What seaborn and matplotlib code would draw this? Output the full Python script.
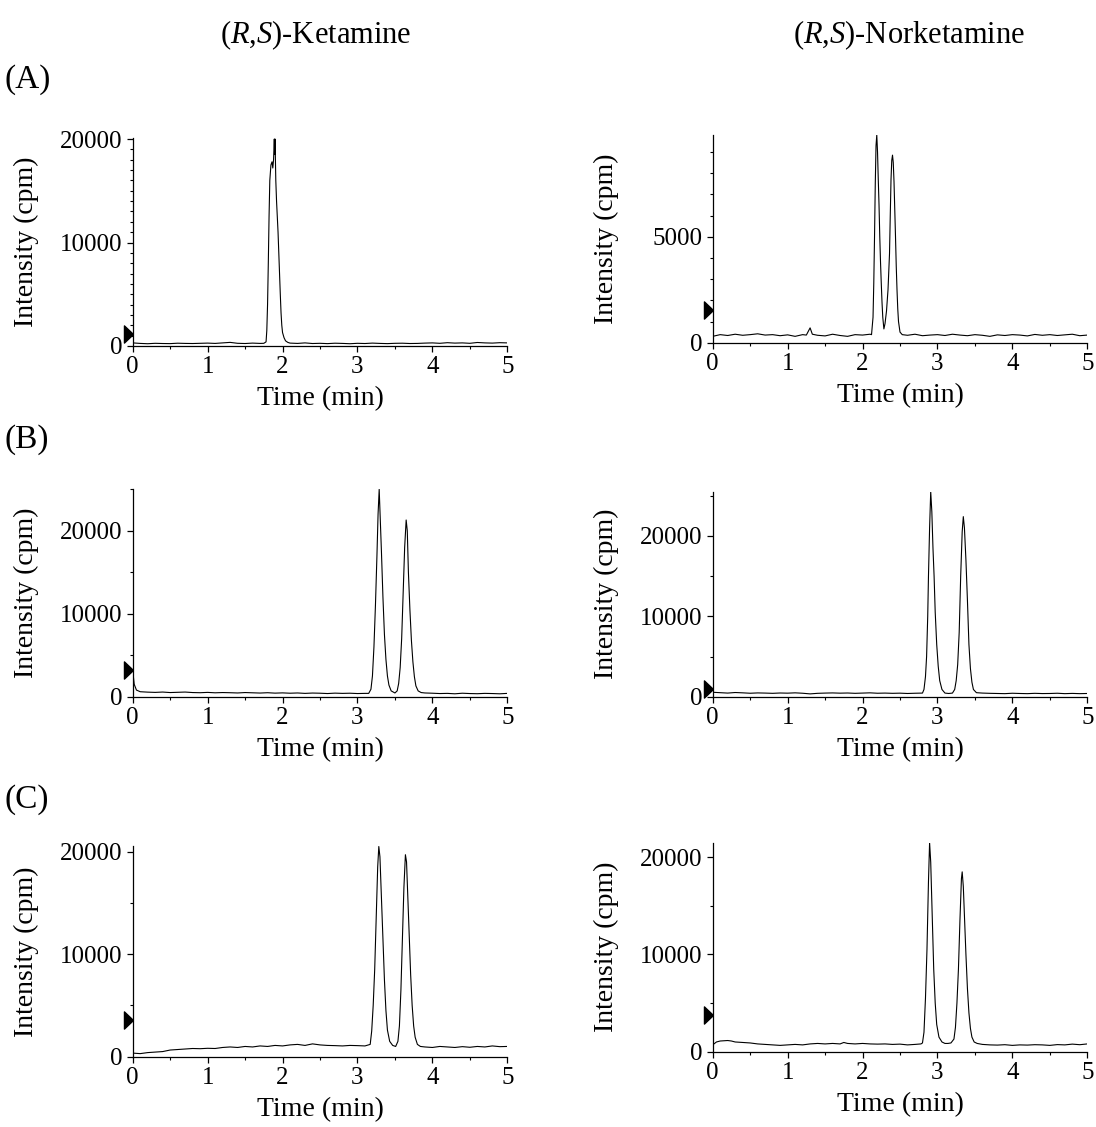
import numpy as np
import pandas as pd
import seaborn as sns
import matplotlib.pyplot as plt
from matplotlib.ticker import MultipleLocator

# (A) ketamine
ka_t = [0, 0.1, 0.2, 0.3, 0.4, 0.5, 0.6, 0.7, 0.8, 0.9, 1.0, 1.1, 1.2, 1.3, 1.4, 1.5, 1.6, 1.7,
        1.75, 1.78, 1.79, 1.80, 1.81, 1.82, 1.83, 1.845, 1.86, 1.87, 1.88, 1.89, 1.895, 1.90, 1.91,
        1.92, 1.93, 1.94, 1.95, 1.96, 1.97, 1.98, 1.99, 2.00, 2.02, 2.04, 2.07,
        2.1, 2.2, 2.3, 2.4, 2.5, 2.6, 2.7, 2.8, 2.9, 3.0, 3.1, 3.2, 3.3, 3.4, 3.5, 3.6, 3.7, 3.8,
        3.9, 4.0, 4.1, 4.2, 4.3, 4.4, 4.5, 4.6, 4.7, 4.8, 4.9, 5.0]
ka_y = [300, 250, 220, 260, 240, 230, 270, 250, 240, 260, 280, 250, 300, 350, 260, 240, 280, 250,
        260, 400, 1500, 4000, 8000, 12500, 16000, 17500, 17800, 17200, 18000, 20000, 18500, 20000, 16000,
        14000, 12500, 11000, 9000, 7000, 5000, 3200, 2000, 1300, 800, 500, 350,
        280, 250, 300, 240, 260, 230, 270, 250, 220, 260, 240, 280, 250, 230, 260, 270, 240, 250,
        280, 300, 260, 320, 280, 300, 260, 340, 300, 280, 320, 300]

# (A) norketamine
na_t = [0, 0.1, 0.2, 0.3, 0.4, 0.5, 0.6, 0.7, 0.8, 0.9, 1.0, 1.1, 1.2, 1.25, 1.3, 1.33, 1.4, 1.5,
        1.6, 1.7, 1.8, 1.9, 2.0, 2.1,
        2.12, 2.14, 2.15, 2.16, 2.17, 2.18, 2.19, 2.20, 2.21, 2.22, 2.23, 2.24, 2.25, 2.26, 2.27,
        2.285, 2.30, 2.32, 2.34, 2.36, 2.37, 2.38, 2.39, 2.40, 2.41, 2.42, 2.43, 2.44, 2.45, 2.46,
        2.47, 2.48, 2.50, 2.53,
        2.6, 2.7, 2.8, 2.9, 3.0, 3.1, 3.2, 3.3, 3.4, 3.5, 3.6, 3.7, 3.8, 3.9, 4.0, 4.1, 4.2, 4.3,
        4.4, 4.5, 4.6, 4.7, 4.8, 4.9, 5.0]
na_y = [300, 380, 340, 400, 350, 380, 420, 360, 380, 330, 370, 300, 380, 360, 700, 400, 350, 320,
        400, 340, 300, 380, 360, 400,
        380, 1200, 2800, 5000, 7500, 9300, 9800, 9000, 7700, 6500, 5000, 3800, 2800, 1900, 1200,
        650, 900, 1500, 2500, 4200, 6000, 7700, 8600, 8850, 8500, 7600, 6300, 5000, 3600, 2500,
        1600, 1000, 500, 380,
        350, 400, 330, 360, 380, 340, 400, 360, 330, 380, 350, 300, 370, 340, 380, 360, 320,
        390, 350, 380, 340, 370, 400, 330, 360]

# (B) ketamine
kb_t = [0, 0.02, 0.05, 0.1, 0.2, 0.3, 0.4, 0.5, 0.6, 0.7, 0.8, 0.9, 1.0, 1.1, 1.2, 1.3, 1.4, 1.5,
        1.6, 1.7, 1.8, 1.9, 2.0, 2.1, 2.2, 2.3, 2.4, 2.5, 2.6, 2.7, 2.8, 2.9, 3.0, 3.1,
        3.15, 3.18, 3.20, 3.22, 3.24, 3.26, 3.275, 3.29, 3.30, 3.32, 3.34, 3.36, 3.38, 3.40, 3.42,
        3.45, 3.50, 3.53, 3.55, 3.57, 3.59, 3.61, 3.63, 3.65, 3.665, 3.68, 3.70, 3.72, 3.74, 3.76,
        3.78, 3.81, 3.85,
        3.9, 4.0, 4.1, 4.2, 4.3, 4.4, 4.5, 4.6, 4.7, 4.8, 4.9, 5.0]
kb_y = [3200, 1500, 800, 600, 550, 520, 560, 500, 530, 560, 500, 480, 520, 470, 500, 480, 450, 500,
        470, 440, 480, 430, 460, 420, 450, 400, 440, 420, 380, 430, 400, 420, 380, 400,
        400, 900, 2500, 6000, 11000, 17000, 22000, 25000, 22500, 17500, 12000, 7500, 4500, 2500, 1400,
        700, 450, 700, 1600, 3500, 7000, 12500, 18000, 21300, 20000, 15000, 10500, 6800, 4200, 2400,
        1300, 700, 500,
        450, 420, 380, 400, 350, 420, 380, 360, 400, 380, 350, 400]

# (B) norketamine
nb_t = [0, 0.1, 0.2, 0.3, 0.4, 0.5, 0.6, 0.7, 0.8, 0.9, 1.0, 1.1, 1.2, 1.3, 1.4, 1.5, 1.6, 1.7,
        1.8, 1.9, 2.0, 2.1, 2.2, 2.3, 2.4, 2.5, 2.6, 2.7,
        2.80, 2.82, 2.84, 2.855, 2.87, 2.88, 2.895, 2.91, 2.925, 2.94, 2.955, 2.97, 2.99, 3.01, 3.03,
        3.06, 3.10, 3.15, 3.20, 3.23, 3.25, 3.27, 3.29, 3.31, 3.33, 3.345, 3.36, 3.38, 3.40, 3.42,
        3.44, 3.46, 3.48, 3.52,
        3.6, 3.7, 3.8, 3.9, 4.0, 4.1, 4.2, 4.3, 4.4, 4.5, 4.6, 4.7, 4.8, 4.9, 5.0]
nb_y = [550, 500, 450, 520, 480, 430, 470, 450, 420, 460, 440, 480, 430, 350, 420, 450, 470, 440,
        460, 420, 450, 480, 430, 450, 420, 440, 400, 430,
        450, 900, 2500, 5000, 10000, 15000, 21000, 25500, 23000, 18500, 15000, 10500, 6500, 3800, 2000,
        900, 450, 400, 450, 900, 2000, 4000, 8000, 15000, 20500, 22400, 21000, 17000, 12000, 6500,
        3500, 1800, 900, 500,
        450, 420, 400, 380, 430, 400, 380, 420, 390, 400, 430, 380, 410, 380, 400]

# (C) ketamine
kc_t = [0, 0.1, 0.2, 0.3, 0.4, 0.5, 0.6, 0.7, 0.8, 0.9, 1.0, 1.1, 1.2, 1.3, 1.4, 1.5, 1.6, 1.7,
        1.8, 1.9, 2.0, 2.1, 2.2, 2.3, 2.4, 2.5, 2.6, 2.7, 2.8, 2.9, 3.0, 3.1,
        3.17, 3.19, 3.21, 3.23, 3.25, 3.27, 3.285, 3.30, 3.32, 3.34, 3.36, 3.38, 3.40, 3.43, 3.47,
        3.51, 3.54, 3.56, 3.58, 3.60, 3.62, 3.64, 3.655, 3.67, 3.69, 3.71, 3.73, 3.75, 3.77, 3.80,
        3.84,
        3.9, 4.0, 4.1, 4.2, 4.3, 4.4, 4.5, 4.6, 4.7, 4.8, 4.9, 5.0]
kc_y = [350, 300, 400, 450, 500, 650, 700, 750, 800, 780, 820, 800, 900, 950, 900, 1000, 950, 1050,
        1000, 1100, 1050, 1150, 1200, 1100, 1250, 1150, 1100, 1080, 1050, 1100, 1080, 1050,
        1200, 2500, 5000, 8500, 13500, 18500, 20500, 19500, 15500, 11500, 7500, 4500, 2600, 1500, 1100,
        1000, 1500, 3000, 6500, 11500, 16500, 19700, 19000, 16000, 12000, 8000, 5000, 3000, 1900, 1200,
        1000,
        950, 900, 1000, 950, 900, 980, 920, 1000, 950, 1050, 980, 1000]

# (C) norketamine
nc_t = [0, 0.05, 0.1, 0.2, 0.25, 0.3, 0.4, 0.5, 0.6, 0.7, 0.8, 0.9, 1.0, 1.1, 1.2, 1.3, 1.4, 1.5,
        1.6, 1.7, 1.75, 1.8, 1.9, 2.0, 2.1, 2.2, 2.3, 2.4, 2.5, 2.6, 2.7, 2.78,
        2.80, 2.82, 2.84, 2.86, 2.88, 2.895, 2.91, 2.93, 2.95, 2.97, 2.99, 3.02, 3.06, 3.10, 3.14,
        3.18, 3.22, 3.24, 3.26, 3.28, 3.30, 3.32, 3.33, 3.345, 3.36, 3.38, 3.40, 3.42, 3.44, 3.46,
        3.49, 3.53,
        3.6, 3.7, 3.8, 3.9, 4.0, 4.1, 4.2, 4.3, 4.4, 4.5, 4.6, 4.7, 4.8, 4.9, 5.0]
nc_y = [700, 1000, 1100, 1150, 1100, 1000, 950, 900, 800, 750, 700, 650, 700, 750, 700, 800, 850, 800,
        850, 800, 950, 850, 800, 850, 800, 780, 800, 750, 780, 700, 750, 800,
        900, 2000, 5500, 10500, 17500, 21500, 19500, 14000, 8500, 5000, 2800, 1500, 1000, 850, 850,
        900, 1300, 2500, 5000, 8500, 13500, 17800, 18500, 17000, 14000, 10000, 6500, 4000, 2400, 1500,
        1000, 850,
        750, 700, 680, 720, 650, 700, 680, 720, 700, 650, 730, 700, 780, 720, 800]

# injection markers (cpm) and y limits
marks = [1200, 1540, 3200, 900, 3580, 3770]
ymax = [20100, 9800, 25000, 25500, 20550, 21500]
ymajor = [10000, 5000, 10000, 10000, 10000, 10000]
yminor = [1000, 1000, 5000, 5000, 5000, 5000]

traces = [(ka_t, ka_y), (na_t, na_y), (kb_t, kb_y), (nb_t, nb_y), (kc_t, kc_y), (nc_t, nc_y)]
titles = ["($\\mathit{R}$,$\\mathit{S}$)-Ketamine", "($\\mathit{R}$,$\\mathit{S}$)-Norketamine"]
rows = ["(A)", "(B)", "(C)"]

sns.set_theme(style="ticks")
plt.rcParams["font.family"] = ["Liberation Serif", "DejaVu Serif"]
plt.rcParams["mathtext.fontset"] = "custom"
plt.rcParams["mathtext.rm"] = "Liberation Serif"
plt.rcParams["mathtext.it"] = "Liberation Serif:italic"
plt.rcParams["text.color"] = "black"
plt.rcParams["axes.labelcolor"] = "black"

W, H = 1096, 1127
fig = plt.figure(figsize=(W / 100, H / 100), dpi=100)

# pixel boxes: (left, right, bottom, top)
boxes = [(132.7, 507.3, 346, 138), (712.7, 1087.3, 342.7, 135),
         (132.7, 507.3, 696.7, 489.3), (712.7, 1087.3, 696.7, 491.7),
         (132.7, 507.3, 1056.7, 846), (712.7, 1087.3, 1051.7, 842.7)]

tri = [(0, 0), (-1, 0.95), (-1, -0.95), (0, 0)]

for i, (t, y) in enumerate(traces):
    l, r, b, tp = boxes[i]
    ax = fig.add_axes([l / W, 1 - b / H, (r - l) / W, (b - tp) / H])
    df = pd.DataFrame({"t": t, "y": y})
    sns.lineplot(data=df, x="t", y="y", ax=ax, color="black", linewidth=0.8, estimator=None)
    ax.set_xlim(0, 5)
    ax.set_ylim(0, ymax[i])
    ax.xaxis.set_major_locator(MultipleLocator(1))
    ax.xaxis.set_minor_locator(MultipleLocator(0.5))
    ax.yaxis.set_major_locator(MultipleLocator(ymajor[i]))
    ax.yaxis.set_minor_locator(MultipleLocator(yminor[i]))
    sns.despine(ax=ax)
    for s in ["left", "bottom"]:
        ax.spines[s].set_linewidth(0.9)
        ax.spines[s].set_color("black")
    ax.tick_params(which="major", direction="out", length=4.3, width=0.9, labelsize=18,
                   pad=3, colors="black")
    ax.tick_params(which="minor", direction="out", length=2.5, width=0.8, colors="black")
    ax.set_xlabel("Time (min)", fontsize=20, labelpad=6, color="black")
    ax.set_ylabel("Intensity (cpm)", fontsize=20, color="black")
    ax.yaxis.set_label_coords(-0.25, 0.5)
    ax.plot([0], [marks[i]], marker=tri, markersize=13, color="black", clip_on=False,
            linestyle="none")

fig.text(316 / W, 1 - 35 / H, titles[0], fontsize=22, ha="center", va="center", color="black")
fig.text(909 / W, 1 - 35 / H, titles[1], fontsize=22, ha="center", va="center", color="black")
for j, lab in enumerate(rows):
    fig.text(5 / W, 1 - [80, 440, 800][j] / H, lab, fontsize=24, ha="left", va="center",
             color="black")

fig.savefig("out.png", dpi=100)
